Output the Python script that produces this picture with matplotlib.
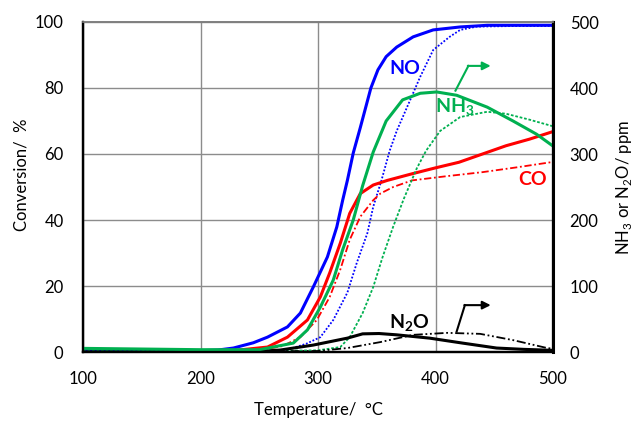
"""
plot.py - light-off curves: NO and CO conversion (left) with NH3 / N2O (right).
"""

import matplotlib
matplotlib.use("Agg")
import matplotlib.pyplot as plt

plt.rcParams["font.family"] = ["Lato", "DejaVu Sans"]
plt.rcParams["mathtext.fontset"] = "custom"
plt.rcParams["mathtext.rm"] = "Lato"
plt.rcParams["mathtext.bf"] = "Lato:bold"

BLUE = "#0000FF"
RED = "#FF0000"
GREEN = "#00B050"
BLACK = "#000000"

# ---------------------------------------------------------------------------
# data (temperature in degC, conversion in %, concentrations in ppm)
# ---------------------------------------------------------------------------

no_a_t = [100, 150, 200, 215, 228, 245, 257, 274, 285, 296, 308, 316, 321, 325,
          330, 336, 345, 351, 358, 367, 381, 398, 421, 444, 500]
no_a = [0.5, 0.4, 0.4, 0.6, 1.2, 2.8, 4.5, 7.6, 11.8, 19.7, 28.8, 37.9, 46, 52,
        60.3, 68, 80, 85.5, 89.5, 92.4, 95.5, 97.6, 98.5, 99, 99]

no_b_t = [100, 200, 260, 275, 290, 302, 313, 325, 333, 342, 347, 354, 361, 367,
          378, 387, 398, 412, 421, 435, 470, 500]
no_b = [0.2, 0.2, 0.3, 0.8, 2.5, 4.5, 9.7, 18, 27, 36, 44, 52, 61, 67,
        76, 83.4, 91.5, 95.5, 97.6, 98.6, 98.8, 98.8]

co_a_t = [100, 150, 200, 230, 257, 274, 291, 302, 310, 319, 327, 336, 347, 359,
          380, 400, 420, 440, 460, 480, 500]
co_a = [0.2, 0.1, 0.2, 0.5, 1.5, 4.5, 9.7, 16.7, 24, 33, 42, 48, 50.6, 52,
        54, 55.8, 57.5, 60, 62.5, 64.5, 66.8]

co_b_t = [100, 200, 250, 270, 285, 299, 310, 319, 327, 336, 347, 353, 364, 380,
          410, 440, 470, 500]
co_b = [0.1, 0.1, 0.5, 1.8, 4.5, 9.7, 16.7, 25, 34, 41, 46, 48, 50, 52,
        53.3, 54.5, 56, 57.6]

nh3_a_t = [100, 150, 200, 250, 279, 291, 302, 313, 321, 330, 338, 347, 358, 372,
           387, 401, 418, 444, 466, 486, 500]
nh3_a = [5.5, 4.5, 3.5, 3.5, 13.5, 33.5, 68, 109, 155, 200, 252, 303, 350, 382,
         392, 394, 389, 371, 350, 330, 312]

nh3_b_t = [100, 250, 300, 319, 327, 338, 347, 355, 364, 373, 384, 392, 404, 421,
           444, 460, 480, 500]
nh3_b = [1.5, 1.5, 2.5, 7.5, 22.5, 59, 98.5, 144, 190, 232, 278, 305, 335, 356,
         364, 361, 352, 342]

n2o_a_t = [100, 200, 250, 268, 296, 325, 338, 352, 367, 395, 423, 452, 475, 500]
n2o_a = [0, 0, 1, 3, 10.5, 21, 27.5, 28, 26, 21, 13.5, 6, 4, 2.5]

n2o_b_t = [100, 300, 325, 353, 381, 410, 438, 466, 495, 500]
n2o_b = [0, 1.5, 6, 15, 26, 29, 27.5, 18, 6, 5]

# ---------------------------------------------------------------------------
# figure
# ---------------------------------------------------------------------------

W, H = 635, 423
fig = plt.figure(figsize=(W / 100, H / 100), dpi=100)
ax = fig.add_axes([83 / W, 71 / H, 470 / W, 330 / H])
ax2 = ax.twinx()

dot = (0, (1, 1))
dot_g = (0, (1.5, 1))
dash_dot = (0, (4, 1.5, 1, 1.5))
dash_dot_dot = (0, (5, 1.5, 1, 1.5, 1, 1.5))

ax.plot(no_b_t, no_b, color=BLUE, lw=1.3, ls=dot)
ax.plot(co_b_t, co_b, color=RED, lw=1.3, ls=dash_dot)
ax.plot(co_a_t, co_a, color=RED, lw=2.2)
ax.plot(no_a_t, no_a, color=BLUE, lw=2.2)

ax2.plot(nh3_b_t, nh3_b, color=GREEN, lw=1.3, ls=dot_g)
ax2.plot(n2o_b_t, n2o_b, color=BLACK, lw=1.3, ls=dash_dot_dot)
ax2.plot(n2o_a_t, n2o_a, color=BLACK, lw=2.2)
ax2.plot(nh3_a_t, nh3_a, color=GREEN, lw=2.2)

ax.set_xlim(100, 500)
ax.set_ylim(0, 100)
ax2.set_ylim(0, 500)
ax.set_xticks([100, 200, 300, 400, 500])
ax.set_yticks([0, 20, 40, 60, 80, 100])
ax2.set_yticks([0, 100, 200, 300, 400, 500])

ax.grid(True, color="#8c8c8c", lw=1.0)
ax.set_axisbelow(True)
ax.tick_params(axis="both", length=0, labelsize=12, colors="#000000")
ax.tick_params(axis="y", pad=14)
ax.tick_params(axis="x", pad=14)
ax2.tick_params(axis="y", length=0, labelsize=12, pad=12)

for a in (ax, ax2):
    for side in ("left", "bottom", "right"):
        a.spines[side].set_color("#000000")
        a.spines[side].set_linewidth(1.6)
    a.spines["top"].set_color("#7f7f7f")
    a.spines["top"].set_linewidth(1.2)
ax2.spines["right"].set_linewidth(2.2)

# axis titles placed in figure pixels
fig.text(22 / W, 1 - 175 / H, "Conversion/  %", fontsize=12,
         rotation=90, ha="center", va="center")
fig.text(318 / W, 1 - 410 / H, "Temperature/  °C", fontsize=12,
         ha="center", va="center")
fig.text(624 / W, 1 - 187 / H, "NH$_3$ or N$_2$O/ ppm", fontsize=12,
         rotation=90, ha="center", va="center")

# series labels
ax.text(374, 84.2, "NO", color=BLUE, fontsize=14, fontweight="bold",
        ha="center", va="baseline")
ax.text(416, 72.7, r"$\mathbf{NH_3}$", color=GREEN, fontsize=14,
        ha="center", va="baseline")
ax.text(483, 50.6, "CO", color=RED, fontsize=14, fontweight="bold",
        ha="center", va="baseline")
ax.text(378, 7.3, r"$\mathbf{N_2O}$", color=BLACK, fontsize=14,
        ha="center", va="baseline")

# arrows pointing at the right-hand axis
ax.plot([417, 428], [79.2, 86.7], color=GREEN, lw=1.5)
ax.annotate("", xy=(447, 86.7), xytext=(427.5, 86.7),
            arrowprops=dict(arrowstyle="-|>", color=GREEN, lw=1.5,
                            mutation_scale=12, shrinkA=0, shrinkB=0))
ax.plot([418, 425], [6.2, 14.2], color=BLACK, lw=1.5)
ax.annotate("", xy=(447, 14.2), xytext=(424.5, 14.2),
            arrowprops=dict(arrowstyle="-|>", color=BLACK, lw=1.5,
                            mutation_scale=12, shrinkA=0, shrinkB=0))

fig.savefig("out.png", dpi=100)
